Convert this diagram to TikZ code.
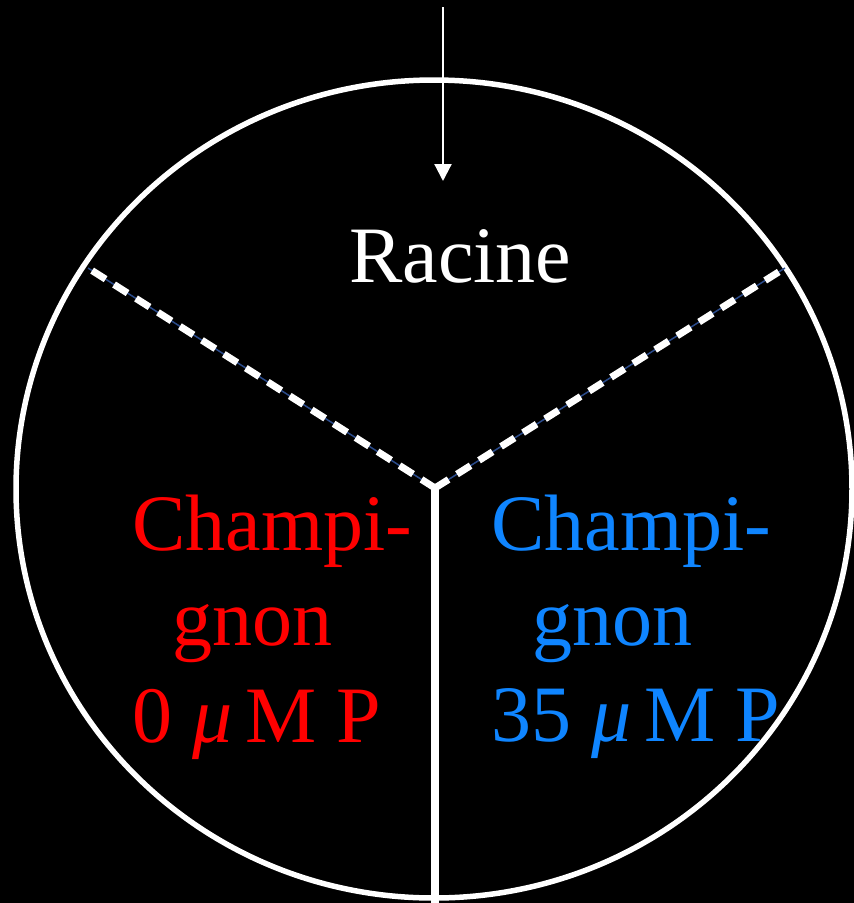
\documentclass[tikz,border=0pt]{standalone}
\usepackage{fontspec}
\setmainfont{Liberation Serif}
\usetikzlibrary{arrows.meta}
\definecolor{FigRed}{HTML}{FF0000}
\definecolor{FigBlue}{HTML}{0F85FF}
\definecolor{FigNavy}{HTML}{2A4A8A}
\newcommand{\PlateText}{\fontsize{80}{96}\selectfont}
\tikzset{
  platerim/.style={
    draw=white,
    line width=5.5pt
  },
  dividerline/.style={
    draw=white,
    line width=8pt
  },
  dashunder/.style={
    draw=FigNavy,
    line width=1.5pt
  },
  dashdivider/.style={
    draw=white,
    line width=7pt,
    dash pattern=on 16pt off 10pt
  },
  inflow/.style={
    -{Triangle[length=17pt,width=17pt]},
    draw=white,
    line width=2.2pt
  },
  platelabel/.style={
    inner sep=0pt,
    anchor=base west,
    font=\PlateText
  }
}

\begin{document}
\begin{tikzpicture}[x=1pt,y=-1pt]
\path[use as bounding box, fill=black] (0,0) rectangle (854,903);

\coordinate (hub) at (435,488);
\coordinate (rimL) at (88,268);
\coordinate (rimR) at (785,268);
\coordinate (rimB) at (435,903);
\coordinate (feedtop) at (443,7);
\coordinate (feedtip) at (443,181);

\draw[platerim] (434,489) ellipse [x radius=418, y radius=409];

\draw[dashunder] (hub) -- (rimL);
\draw[dashunder] (hub) -- (rimR);
\draw[dashdivider] (hub) -- (rimL);
\draw[dashdivider] (hub) -- (rimR);
\draw[dividerline] (hub) -- (rimB);

\draw[inflow] (feedtop) -- (feedtip);

\node[platelabel, text=white] (root) at (349,282) {Racine};

\node[platelabel, text=FigRed] (fungA1) at (132,550) {Champi-};
\node[platelabel, text=FigRed] (fungA2) at (172,645) {gnon};
\node[platelabel, text=FigRed] (fungA3) at (132,742) {0 {\itshape μ}\,M P};

\node[platelabel, text=FigBlue] (fungB1) at (491,550) {Champi-};
\node[platelabel, text=FigBlue] (fungB2) at (532,645) {gnon};
\node[platelabel, text=FigBlue] (fungB3) at (491,741) {35 {\itshape μ}\,M P};

\end{tikzpicture}
\end{document}
